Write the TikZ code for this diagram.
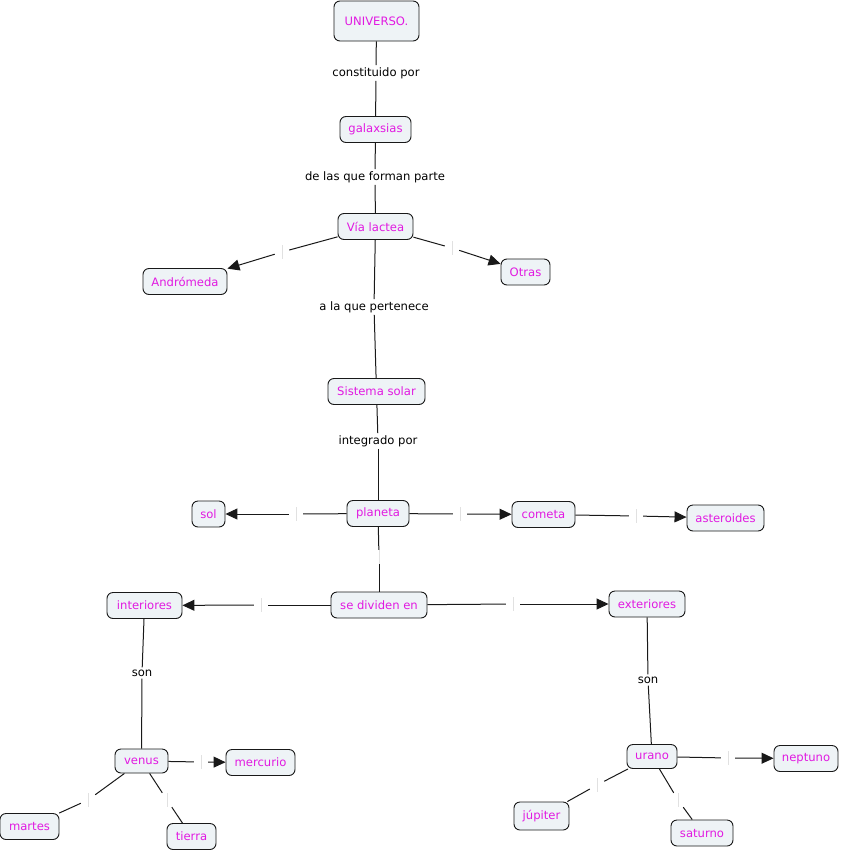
\documentclass[tikz,border=0pt]{standalone}
\usepackage{fontspec}
\setmainfont{DejaVu Sans}
\usetikzlibrary{arrows.meta}
\definecolor{txtmag}{RGB}{225,25,225}
\definecolor{boxfill}{RGB}{238,243,246}
\definecolor{linec}{RGB}{25,25,25}
\definecolor{gapc}{RGB}{225,225,225}
\tikzset{
  concept/.style={draw=linec, line width=0.9pt, fill=boxfill, rounded corners=6pt,
    text=txtmag, font=\fontsize{11.6}{13}\selectfont, inner sep=0pt, minimum height=26pt},
  phrase/.style={text=black, font=\fontsize{11.6}{13}\selectfont, inner sep=2pt, fill=white},
  gap/.style={inner sep=0pt, minimum width=14pt, minimum height=14pt,
    path picture={\draw[gapc, line width=0.8pt] (path picture bounding box.north) -- (path picture bounding box.south);}},
  conn/.style={draw=linec, line width=1pt},
  arr/.style={conn, -{Triangle[length=12pt,width=11pt]}}
}
\begin{document}
\begin{tikzpicture}[x=1pt,y=1pt]
\useasboundingbox (0,0) rectangle (841,-852);
% concepts
\node[concept, minimum width=85pt, minimum height=40pt] (univ) at (376.5,-21) {UNIVERSO.};
\node[concept, minimum width=71pt] (gal) at (375.5,-129.5) {galaxsias};
\node[concept, minimum width=75pt] (via) at (375.5,-226.5) {Vía lactea};
\node[concept, minimum width=84pt] (andro) at (185,-281.5) {Andrómeda};
\node[concept, minimum width=49pt] (otras) at (525.5,-272) {Otras};
\node[concept, minimum width=97pt] (sist) at (376.5,-391.5) {Sistema solar};
\node[concept, minimum width=62pt] (plan) at (378,-513.5) {planeta};
\node[concept, minimum width=33pt] (sol) at (208.5,-514) {sol};
\node[concept, minimum width=63pt] (com) at (543.5,-514.5) {cometa};
\node[concept, minimum width=77pt] (ast) at (725.5,-518) {asteroides};
\node[concept, minimum width=96pt] (sed) at (379,-605) {se dividen en};
\node[concept, minimum width=75pt] (inte) at (144.5,-605.5) {interiores};
\node[concept, minimum width=76pt] (exte) at (647,-604) {exteriores};
\node[concept, minimum width=53pt, minimum height=24pt] (ven) at (141.5,-761) {venus};
\node[concept, minimum width=69pt] (mer) at (260.5,-762.5) {mercurio};
\node[concept, minimum width=59pt] (mar) at (29.5,-826.5) {martes};
\node[concept, minimum width=49pt] (tie) at (191.5,-836.5) {tierra};
\node[concept, minimum width=50pt, minimum height=24pt] (ura) at (652,-756.5) {urano};
\node[concept, minimum width=64pt] (nep) at (806,-758.5) {neptuno};
\node[concept, minimum width=55pt, minimum height=28pt] (jup) at (541.5,-816) {júpiter};
\node[concept, minimum width=62pt] (sat) at (702,-833) {saturno};
% linking phrases
\node[phrase] (p1) at (376,-73) {constituido por};
\node[phrase] (p2) at (375,-177) {de las que forman parte};
\node[phrase] (p3) at (374,-307) {a la que pertenece};
\node[phrase] (p4) at (378,-441) {integrado por};
\node[phrase] (p5) at (142,-673) {son};
\node[phrase] (p6) at (648,-680) {son};
% empty linking phrases
\node[gap] (g1) at (282,-252) {};
\node[gap] (g2) at (452,-248) {};
\node[gap] (g3) at (296,-514) {};
\node[gap] (g4) at (460,-514) {};
\node[gap] (g5) at (636,-516) {};
\node[gap] (g6) at (379,-557) {};
\node[gap] (g7) at (261,-605) {};
\node[gap] (g8) at (513,-604) {};
\node[gap] (g9) at (201,-762) {};
\node[gap] (g10) at (88,-800) {};
\node[gap] (g11) at (167,-800) {};
\node[gap] (g12) at (728,-758) {};
\node[gap] (g13) at (597,-785) {};
\node[gap] (g14) at (678,-800) {};
% connectors
\draw[conn] (univ) -- (p1); \draw[conn] (p1) -- (gal);
\draw[conn] (gal) -- (p2); \draw[conn] (p2) -- (via);
\draw[conn] (via) -- (g1); \draw[arr] (g1) -- (andro);
\draw[conn] (via) -- (g2); \draw[arr] (g2) -- (otras);
\draw[conn] (via) -- (p3); \draw[conn] (p3) -- (sist);
\draw[conn] (sist) -- (p4); \draw[conn] (p4) -- (plan);
\draw[conn] (plan) -- (g3); \draw[arr] (g3) -- (sol);
\draw[conn] (plan) -- (g4); \draw[arr] (g4) -- (com);
\draw[conn] (com) -- (g5); \draw[arr] (g5) -- (ast);
\draw[conn] (plan) -- (g6); \draw[conn] (g6) -- (sed);
\draw[conn] (sed) -- (g7); \draw[arr] (g7) -- (inte);
\draw[conn] (sed) -- (g8); \draw[arr] (g8) -- (exte);
\draw[conn] (inte) -- (p5); \draw[conn] (p5) -- (ven);
\draw[conn] (exte) -- (p6); \draw[conn] (p6) -- (ura);
\draw[conn] (ven) -- (g9); \draw[arr] (g9) -- (mer);
\draw[conn] (ven) -- (g10); \draw[conn] (g10) -- (mar);
\draw[conn] (ven) -- (g11); \draw[conn] (g11) -- (tie);
\draw[conn] (ura) -- (g12); \draw[arr] (g12) -- (nep);
\draw[conn] (ura) -- (g13); \draw[conn] (g13) -- (jup);
\draw[conn] (ura) -- (g14); \draw[conn] (g14) -- (sat);
\end{tikzpicture}
\end{document}
